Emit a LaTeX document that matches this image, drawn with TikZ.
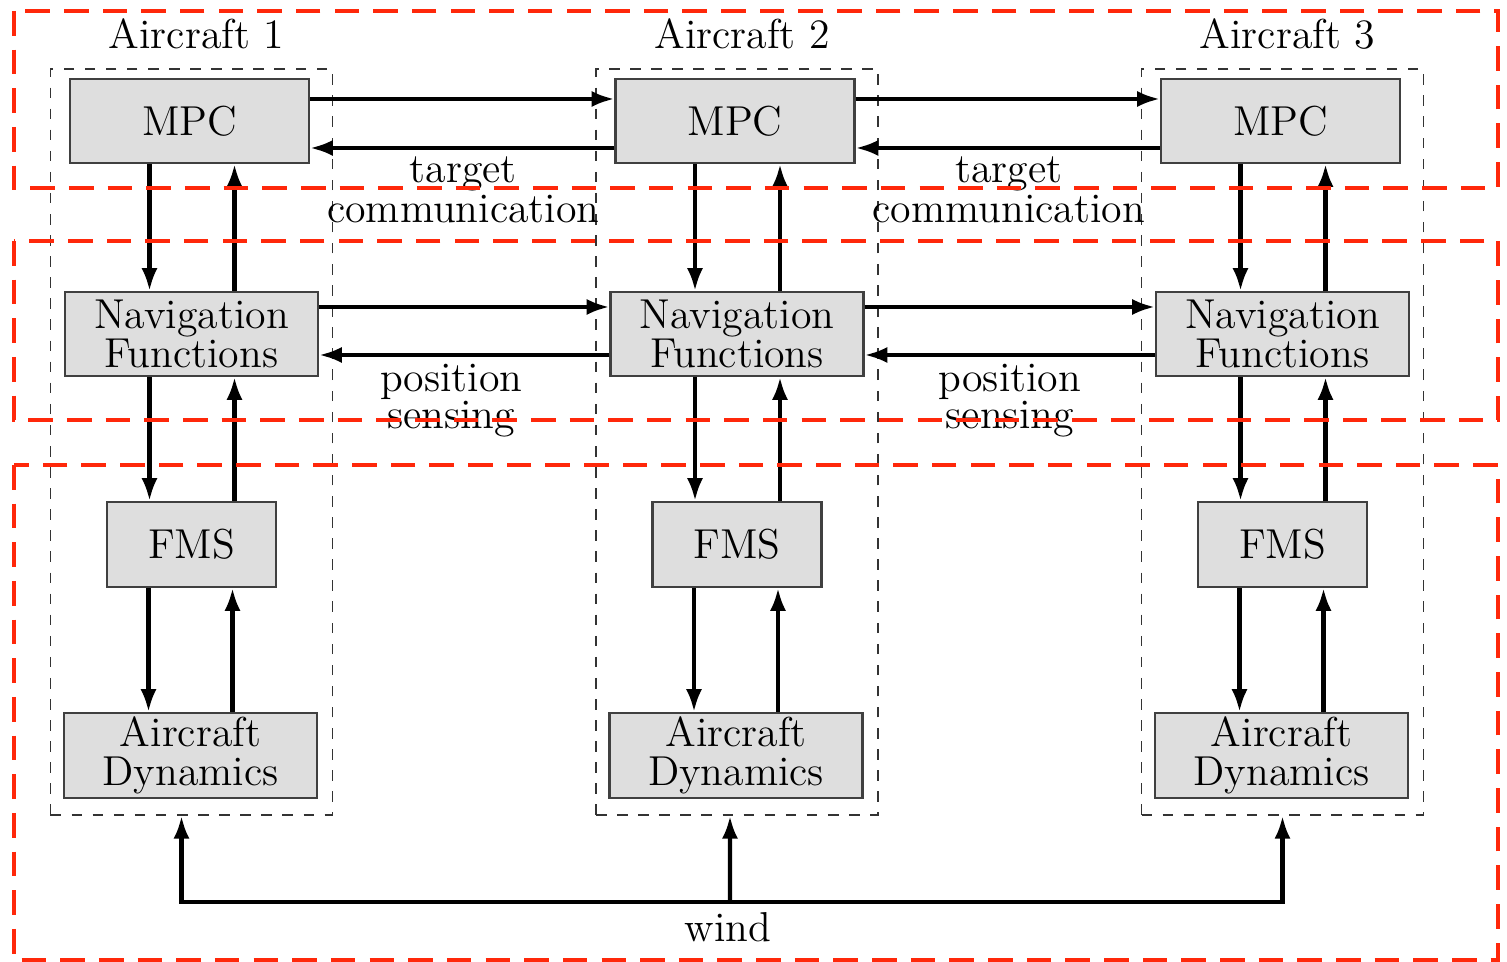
\documentclass[tikz,border=0pt]{standalone}
\usetikzlibrary{arrows.meta}
\definecolor{zonered}{RGB}{255,40,10}
\begin{document}
\begin{tikzpicture}[
    font=\fontsize{11.9}{11}\selectfont,
    blk/.style={draw=black!75, fill=black!13, line width=0.6pt, inner sep=0pt, align=center},
    acbox/.style={draw=black!80, dashed, line width=0.5pt, minimum width=2.82cm, minimum height=7.46cm},
    flow/.style={line width=1.2pt, -{Latex[length=6.5pt,width=4.6pt]}},
    lbl/.style={align=center, inner sep=2pt, font=\fontsize{11.9}{10}\selectfont},
    zone/.style={draw=zonered, line width=1.4pt, dash pattern=on 7pt off 4pt}
  ]
    \useasboundingbox (0,0) rectangle (15.07,-9.62);
    % one column per aircraft
    \foreach \i in {1,2,3} {
      \pgfmathsetmacro{\cx}{1.915+5.455*(\i-1)}
      \node[acbox] (ac\i) at (\cx,-4.42) {};
      \node (title\i) at (\cx+0.05,-0.34) {Aircraft \i};
      \node[blk, minimum width=2.39cm, minimum height=0.84cm] (mpc\i) at (\cx-0.02,-1.21) {MPC};
      \node[blk, minimum width=2.53cm, minimum height=0.84cm] (nav\i) at (\cx,-3.34) {Navigation\\Functions};
      \node[blk, minimum width=1.69cm, minimum height=0.85cm] (fms\i) at (\cx,-5.445) {FMS};
      \node[blk, minimum width=2.53cm, minimum height=0.85cm] (dyn\i) at (\cx-0.01,-7.555) {Aircraft\\Dynamics};
      \draw[flow] ([xshift=-0.42cm]nav\i.north |- mpc\i.south) -- ([xshift=-0.42cm]nav\i.north);
      \draw[flow] ([xshift=0.43cm]nav\i.north) -- ([xshift=0.43cm]nav\i.north |- mpc\i.south);
      \draw[flow] ([xshift=-0.42cm]nav\i.south) -- ([xshift=-0.42cm]fms\i.north -| nav\i.south);
      \draw[flow] ([xshift=0.43cm]fms\i.north -| nav\i.south) -- ([xshift=0.43cm]nav\i.south);
      \draw[flow] ([xshift=-0.43cm]fms\i.south) -- ([xshift=-0.43cm]dyn\i.north -| fms\i.south);
      \draw[flow] ([xshift=0.41cm]dyn\i.north -| fms\i.south) -- ([xshift=0.41cm]fms\i.south);
    }
    % links between neighbours
    \foreach \i/\j/\dx in {1/2/-0.13,2/3/0} {
      \draw[flow] ([yshift=0.22cm]mpc\i.east) -- ([yshift=0.22cm]mpc\j.west);
      \draw[flow] ([yshift=-0.27cm]mpc\j.west) -- node[below, lbl, xshift=0.01cm] {target\\communication} ([yshift=-0.27cm]mpc\i.east);
      \draw[flow] ([yshift=0.27cm]nav\i.east) -- ([yshift=0.27cm]nav\j.west);
      \draw[flow] ([yshift=-0.21cm]nav\j.west) -- node[below, lbl, xshift=\dx cm, font=\fontsize{11.9}{10.6}\selectfont] {position\\sensing} ([yshift=-0.21cm]nav\i.east);
    }
    % wind
    \coordinate (wind) at (7.30,-9.02);
    \draw[flow] (wind) -| ([xshift=-0.10cm]ac1.south);
    \draw[flow] (wind) -| (ac3.south);
    \draw[flow] (wind) -- ([xshift=-0.07cm]ac2.south);
    \node (windlbl) at (7.28,-9.27) {wind};
    % red zones
    \draw[zone] (0.14,-0.11) rectangle (14.98,-1.88);
    \draw[zone] (0.14,-2.41) rectangle (14.98,-4.20);
    \draw[zone] (0.14,-4.65) rectangle (14.98,-9.60);
  \end{tikzpicture}
\end{document}
